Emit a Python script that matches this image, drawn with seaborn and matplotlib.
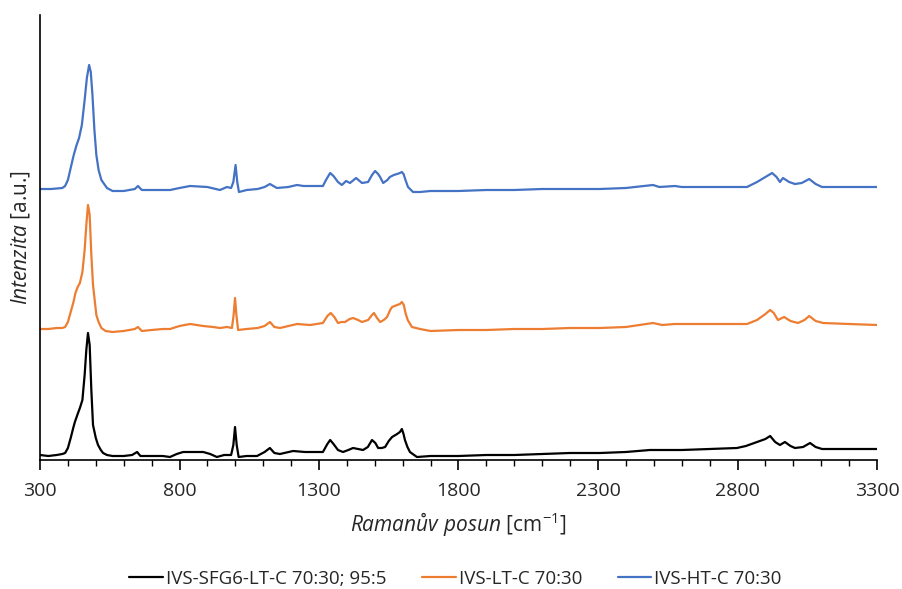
import numpy as np
import pandas as pd
import matplotlib
matplotlib.use("Agg")
import matplotlib.pyplot as plt
from matplotlib.ticker import MultipleLocator, FixedLocator
import seaborn as sns

# ---------------- data ----------------
sample_names = ["IVS-SFG6-LT-C 70:30; 95:5", "IVS-LT-C 70:30", "IVS-HT-C 70:30"]
line_colors = ["#000000", "#ED7D31", "#4472C4"]

black_shift = [300, 330, 360, 380, 390, 400, 410, 420, 425, 435, 443, 452, 460, 466, 472, 478, 484, 490, 500, 508,
               518, 526, 540, 560, 600, 630, 648, 660, 700, 740, 766, 790, 813, 850, 885, 910, 934, 960, 985, 993,
               999, 1005, 1012, 1040, 1078, 1105, 1124, 1140, 1160, 1207, 1250, 1278, 1314, 1330, 1340, 1352, 1368,
               1386, 1405, 1422, 1440, 1458, 1475, 1490, 1502, 1512, 1525, 1537, 1550, 1562, 1580, 1590, 1597, 1603,
               1608, 1617, 1626, 1651, 1700, 1800, 1900, 2000, 2100, 2200, 2307, 2400, 2486, 2497, 2600, 2700, 2798,
               2830, 2870, 2900, 2917, 2935, 2952, 2970, 2990, 3006, 3035, 3060, 3080, 3103, 3200, 3300]
black_int = [5, 4, 5, 6, 7, 12, 22, 33, 38, 46, 52, 60, 85, 110, 127, 115, 70, 35, 22, 15,
             10, 7, 5, 4, 4, 5, 8, 4, 4, 4, 3, 6, 8, 8, 8, 6, 3, 5, 5, 15,
             33, 15, 3, 4, 4, 8, 12, 7, 6, 9, 8, 8, 8, 16, 20, 16, 10,
             8, 10, 12, 11, 10, 13, 20, 17, 12, 12, 13, 19, 23, 26, 28, 31, 26,
             20, 13, 8, 3, 4, 4, 5, 5, 6, 7, 7, 8, 10, 10, 10, 11, 12,
             14, 18, 21, 24, 18, 15, 18, 14, 12, 13, 17, 13, 11, 11, 11]

orange_shift = [300, 330, 360, 380, 390, 400, 410, 420, 427, 435, 443, 452, 460, 466, 472, 478, 484, 490, 496, 502,
                510, 520, 535, 560, 600, 640, 651, 665, 700, 740, 766, 800, 838, 885, 920, 945, 970, 988, 994, 999,
                1004, 1010, 1040, 1080, 1105, 1124, 1140, 1160, 1221, 1268, 1314, 1330, 1342, 1355, 1368, 1380, 1393,
                1410, 1422, 1440, 1454, 1476, 1490, 1497, 1508, 1519, 1532, 1544, 1555, 1562, 1580, 1590, 1597, 1604,
                1610, 1618, 1633, 1662, 1700, 1800, 1900, 2000, 2100, 2200, 2307, 2400, 2497, 2530, 2576, 2700, 2834,
                2870, 2900, 2917, 2930, 2945, 2967, 2990, 3017, 3040, 3057, 3080, 3107, 3200, 3300]
orange_int = [131, 131, 132, 132, 133, 138, 148, 158, 167, 173, 177, 188, 210, 235, 255, 245, 205, 175, 160, 145,
              138, 132, 129, 128, 129, 131, 133, 129, 130, 131, 131, 134, 136, 134, 133, 132, 133, 132, 145, 162,
              145, 130, 131, 132, 134, 138, 133, 132, 136, 135, 137, 144, 147, 143, 137, 138, 138,
              141, 142, 140, 138, 140, 145, 147, 142, 138, 140, 143, 150, 153, 155, 156, 158, 155,
              147, 140, 133, 131, 129, 130, 130, 131, 131, 132, 132, 133, 137, 135, 136, 136, 136,
              140, 146, 150, 147, 140, 143, 139, 137, 140, 144, 139, 137, 136, 135]

blue_shift = [300, 340, 380, 390, 400, 410, 420, 430, 440, 450, 460, 468, 476, 482, 488, 495, 502, 510, 520, 540,
              560, 600, 640, 651, 665, 700, 740, 766, 800, 838, 900, 945, 970, 985, 993, 1001, 1007, 1013, 1041, 1080,
              1105, 1124, 1149, 1190, 1221, 1245, 1314, 1325, 1340, 1352, 1368, 1382, 1397, 1411, 1433, 1454, 1476,
              1490, 1501, 1512, 1519, 1530, 1545, 1554, 1568, 1580, 1590, 1597, 1603, 1610, 1619, 1637, 1662, 1700,
              1800, 1900, 2000, 2100, 2200, 2307, 2400, 2497, 2520, 2576, 2600, 2700, 2834, 2870, 2900, 2924, 2940,
              2952, 2963, 2985, 3006, 3030, 3057, 3080, 3103, 3200, 3300]
blue_int = [271, 271, 272, 274, 280, 292, 304, 314, 322, 335, 360, 382, 395, 388, 365, 330, 305, 290, 280, 272,
            269, 269, 271, 274, 270, 270, 270, 270, 272, 274, 273, 270, 273, 272, 278, 295, 278, 268, 270, 271,
            273, 276, 272, 273, 275, 274, 274, 280, 287, 284, 278, 275, 279, 277, 282, 277, 278,
            285, 289, 286, 283, 277, 280, 283, 285, 286, 287, 288, 286, 280, 273, 268, 268, 269,
            269, 270, 270, 271, 271, 271, 272, 275, 273, 274, 273, 273, 273, 278, 283, 287, 283,
            278, 282, 278, 276, 277, 281, 276, 273, 273, 273]

x_major_ticks = [300, 800, 1300, 1800, 2300, 2800, 3300]

# ---------------- figure ----------------
sns.set_theme(style="white")
plt.rcParams["font.family"] = ["Open Sans", "DejaVu Sans"]
plt.rcParams["mathtext.fontset"] = "custom"
plt.rcParams["mathtext.rm"] = "Open Sans"
plt.rcParams["mathtext.it"] = "Open Sans:italic"

frames = []
for name, xs, ys in zip(sample_names,
                        [black_shift, orange_shift, blue_shift],
                        [black_int, orange_int, blue_int]):
    frames.append(pd.DataFrame({"shift": xs, "intensity": ys, "sample": name}))
df = pd.concat(frames, ignore_index=True)

fig = plt.figure(figsize=(9.02, 5.89), dpi=100)
ax = fig.add_axes([40 / 902, 129 / 589, 837 / 902, 445 / 589])

sns.lineplot(data=df, x="shift", y="intensity", hue="sample", hue_order=sample_names,
             palette=dict(zip(sample_names, line_colors)), estimator=None, sort=True,
             linewidth=1.6, ax=ax)

ax.set_xlim(300, 3300)
ax.set_ylim(0, 445)
ax.xaxis.set_major_locator(FixedLocator(x_major_ticks))
ax.xaxis.set_minor_locator(MultipleLocator(100))
ax.tick_params(axis="x", which="major", direction="out", length=7, width=1.2, color="black",
               labelsize=14, pad=9, bottom=True)
ax.tick_params(axis="x", which="minor", direction="out", length=4.5, width=1.0, color="black", bottom=True)
ax.set_yticks([])
for side in ["top", "right"]:
    ax.spines[side].set_visible(False)
for side in ["left", "bottom"]:
    ax.spines[side].set_color("black")
    ax.spines[side].set_linewidth(1.2)

ax.set_xlabel(r"$\mathit{Ramanův\ posun}$ [cm$^{\mathregular{-1}}$]", fontsize=15, labelpad=7)
ax.set_ylabel(r"$\mathit{Intenzita}$ [a.u.]", fontsize=15, labelpad=6)

ax.get_legend().remove()
handles, labels = ax.get_legend_handles_labels()
fig.legend(handles, labels, loc="lower center", bbox_to_anchor=(0.505, -0.027), ncol=3, frameon=False,
           fontsize=13.5, handlelength=1.8, handletextpad=0.15, columnspacing=1.9)

fig.savefig("out.png", dpi=100)
